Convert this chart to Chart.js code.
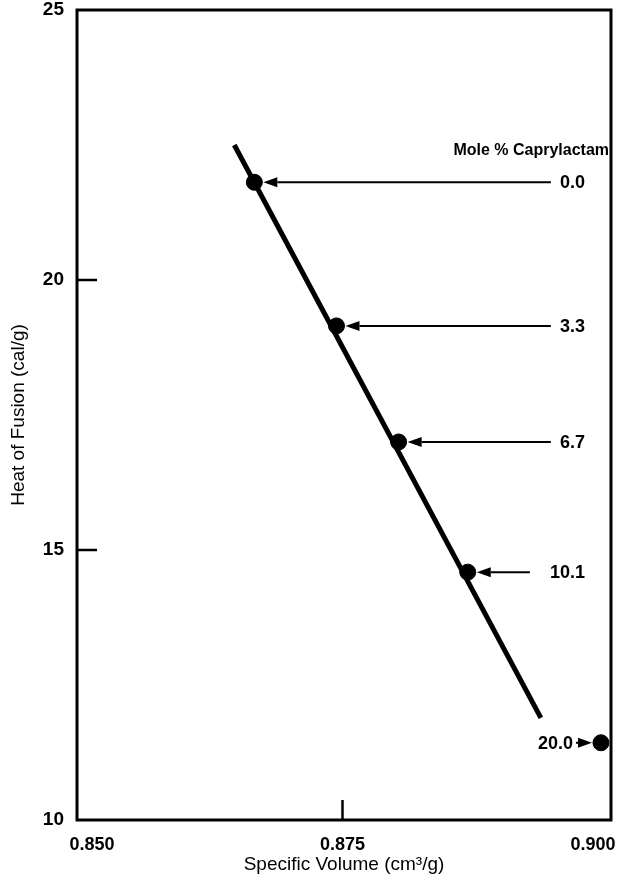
<!DOCTYPE html>
<html lang="en">
<head>
<meta charset="UTF-8">
<title>Heat of Fusion vs Specific Volume</title>
<script src="https://cdn.jsdelivr.net/npm/chart.js"></script>
<style>
  body { margin: 0; background: #fff; }
  #wrap { width: 620px; height: 880px; position: relative; }
</style>
</head>
<body>
<div id="wrap"><canvas id="chart"></canvas></div>
<script>
// measured points, one per composition
const moleLabels = ['0.0', '3.3', '6.7', '10.1', '20.0'];
const specVolume = [0.8662, 0.8744, 0.8806, 0.8875, 0.9008];
const heatFusion = [21.81, 19.15, 17.0, 14.59, 11.43];

// straight line drawn through the first four points
const fitX = [0.8642, 0.8948];
const fitY = [22.5, 11.89];

const xTicks = [0.850, 0.875, 0.900];
const yTicks = [10, 15, 20, 25];

// callouts: right edge of each label and start of its arrow (x in cm3/g)
const labelX = [0.8992, 0.8992, 0.8992, 0.8992, 0.8980];
const arrowFromX = [0.8958, 0.8958, 0.8958, 0.8937, 0.8983];

const FONT = '"Liberation Sans", Arial, sans-serif';

const decor = {
  id: 'decor',
  afterDatasetsDraw(chart) {
    const { ctx, chartArea: a, scales: { x, y } } = chart;
    ctx.save();
    ctx.strokeStyle = '#000';
    ctx.fillStyle = '#000';

    // frame
    ctx.lineWidth = 3;
    ctx.strokeRect(a.left, a.top, a.right - a.left, a.bottom - a.top);

    // inward tick marks
    ctx.lineWidth = 2.5;
    [15, 20].forEach(v => {
      const py = y.getPixelForValue(v);
      ctx.beginPath();
      ctx.moveTo(a.left, py);
      ctx.lineTo(a.left + 20, py);
      ctx.stroke();
    });
    const tx = x.getPixelForValue(0.875);
    ctx.beginPath();
    ctx.moveTo(tx, a.bottom);
    ctx.lineTo(tx, a.bottom - 20);
    ctx.stroke();

    // arrows and labels
    ctx.font = 'bold 18px ' + FONT;
    ctx.textBaseline = 'middle';
    ctx.textAlign = 'right';
    ctx.lineWidth = 2;
    moleLabels.forEach((lab, i) => {
      const px = x.getPixelForValue(specVolume[i]);
      const py = y.getPixelForValue(heatFusion[i]);
      const sx = x.getPixelForValue(arrowFromX[i]);
      const dir = px > sx ? 1 : -1;
      const tip = px - dir * 9;
      const base = tip - dir * 14;
      ctx.beginPath();
      ctx.moveTo(sx, py);
      ctx.lineTo(base, py);
      ctx.stroke();
      ctx.beginPath();
      ctx.moveTo(tip, py);
      ctx.lineTo(base, py - 5);
      ctx.lineTo(base, py + 5);
      ctx.closePath();
      ctx.fill();
      ctx.fillText(lab, x.getPixelForValue(labelX[i]), py + 1);
    });

    ctx.font = 'bold 16px ' + FONT;
    ctx.fillText('Mole % Caprylactam', a.right - 2, y.getPixelForValue(22.4));
    ctx.restore();
  }
};

new Chart(document.getElementById('chart'), {
  type: 'scatter',
  data: {
    datasets: [
      {
        label: 'fit',
        data: fitX.map((v, i) => ({ x: v, y: fitY[i] })),
        showLine: true,
        borderColor: '#000',
        borderWidth: 5,
        pointRadius: 0
      },
      {
        label: 'Mole % Caprylactam',
        data: specVolume.map((v, i) => ({ x: v, y: heatFusion[i] })),
        backgroundColor: '#000',
        borderColor: '#000',
        pointRadius: 8,
        pointHoverRadius: 8
      }
    ]
  },
  options: {
    responsive: true,
    maintainAspectRatio: false,
    animation: false,
    layout: { padding: { top: 10, right: 4, left: 0, bottom: 0 } },
    plugins: { legend: { display: false }, tooltip: { enabled: false } },
    scales: {
      x: {
        type: 'linear',
        min: 0.8485,
        max: 0.9018,
        afterBuildTicks: s => { s.ticks = xTicks.map(v => ({ value: v })); },
        afterFit: s => { s.height = 60; s.paddingLeft = 0; s.paddingRight = 0; },
        grid: { display: false },
        border: { display: false },
        ticks: {
          color: '#000',
          padding: 6,
          maxRotation: 0,
          font: { family: FONT, size: 18, weight: 'bold' },
          callback: v => v.toFixed(3)
        },
        title: {
          display: true,
          text: 'Specific Volume (cm³/g)',
          color: '#000',
          padding: { top: 0 },
          font: { family: FONT, size: 19 }
        }
      },
      y: {
        min: 10,
        max: 25,
        afterBuildTicks: s => { s.ticks = yTicks.map(v => ({ value: v })); },
        afterFit: s => { s.width = 77; s.paddingTop = 0; s.paddingBottom = 0; },
        grid: { display: false },
        border: { display: false },
        ticks: {
          color: '#000',
          padding: 5,
          font: { family: FONT, size: 19, weight: 'bold' }
        },
        title: {
          display: true,
          text: 'Heat of Fusion (cal/g)',
          color: '#000',
          padding: { top: 7, bottom: 0 },
          font: { family: FONT, size: 19 }
        }
      }
    }
  },
  plugins: [decor]
});
</script>
</body>
</html>
